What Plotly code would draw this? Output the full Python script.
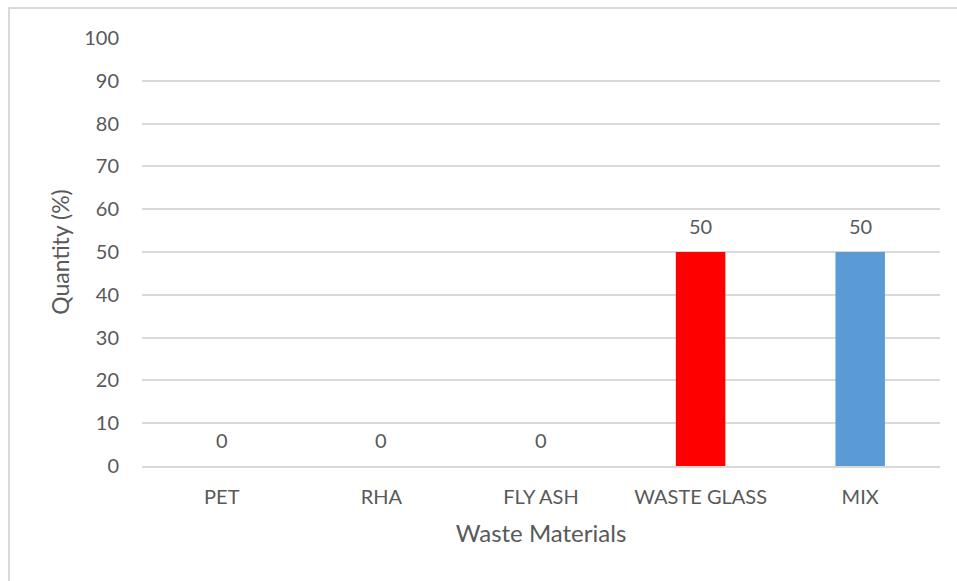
import plotly.graph_objects as go

categories = ["PET", "RHA", "FLY ASH", "WASTE GLASS", "MIX"]
values = [0, 0, 0, 50, 50]
bar_colors = ["#5B9BD5", "#5B9BD5", "#5B9BD5", "#FF0000", "#5B9BD5"]
y_ticks = [0, 10, 20, 30, 40, 50, 60, 70, 80, 90, 100]

FONT = "Lato, 'Open Sans', sans-serif"
GRAY = "#595959"

fig = go.Figure(go.Bar(
    x=categories, y=values,
    marker=dict(color=bar_colors, line=dict(width=0)),
    width=0.31,
))

for c, v in zip(categories, values):
    fig.add_annotation(
        x=c, y=v, text=str(v), showarrow=False,
        yanchor="middle", yshift=26,
        font=dict(family=FONT, size=20, color=GRAY),
    )

W, H = 957, 581
L, R, T, B = 142, 17, 38, 115
pw, ph = W - L - R, H - T - B

fig.update_layout(
    width=W, height=H,
    margin=dict(l=L, r=R, t=T, b=B, pad=0),
    paper_bgcolor="white", plot_bgcolor="white",
    showlegend=False,
    font=dict(family=FONT, color=GRAY),
    xaxis=dict(
        title=dict(text="Waste Materials", font=dict(size=24, color=GRAY), standoff=18),
        tickfont=dict(size=20, color=GRAY),
        showgrid=False, showline=True, linecolor="#D9D9D9", linewidth=2,
        ticks="outside", ticklen=12, tickcolor="rgba(0,0,0,0)",
    ),
    yaxis=dict(
        title=dict(text="Quantity (%)", font=dict(size=23, color=GRAY), standoff=8),
        range=[0, 100], tickvals=y_ticks,
        tickfont=dict(size=20, color=GRAY),
        showgrid=True, gridcolor="#D9D9D9", gridwidth=2,
        zeroline=False, showline=False, ticks="outside", ticklen=18,
        tickcolor="rgba(0,0,0,0)",
    ),
    shapes=[dict(
        type="rect", xref="paper", yref="paper",
        x0=(9 - L) / pw, x1=(W + 20 - L) / pw,
        y0=(H - B - (H + 20)) / ph, y1=(H - B - 8) / ph,
        line=dict(color="#D9D9D9", width=2), fillcolor="rgba(0,0,0,0)",
        layer="below",
    )],
)

fig.write_html("out.html")
